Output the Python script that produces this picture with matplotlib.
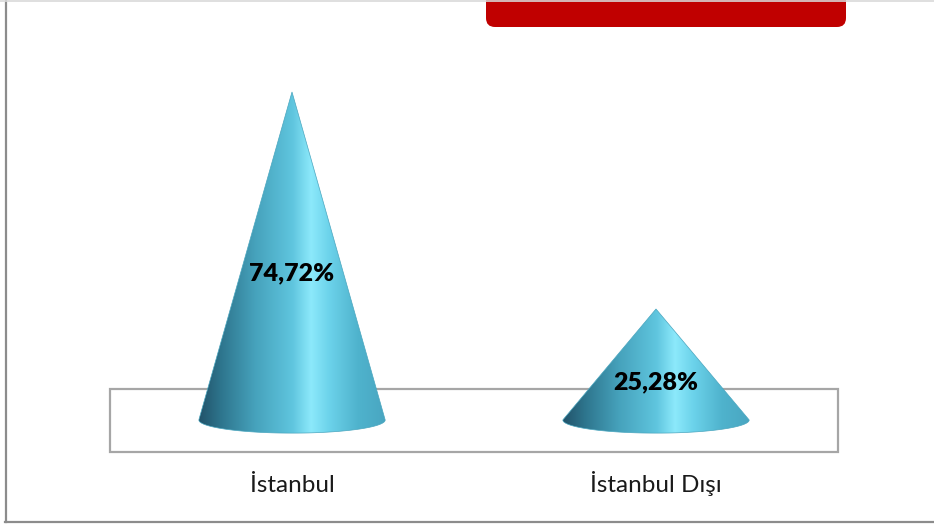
import numpy as np
import matplotlib.pyplot as plt
from matplotlib.path import Path
from matplotlib.patches import PathPatch, Rectangle, FancyBboxPatch
from matplotlib.colors import to_rgb

categories = ['İstanbul', 'İstanbul Dışı']
shares = [74.72, 25.28]
value_labels = ['74,72%', '25,28%']

plt.rcParams['font.family'] = ['Lato', 'DejaVu Sans']

W, H = 934, 526
fig = plt.figure(figsize=(W / 100, H / 100), dpi=100)

# decoration layer in pixel units (frame + banner)
deco = fig.add_axes([0, 0, 1, 1], zorder=0)
deco.set_xlim(0, W)
deco.set_ylim(H, 0)
deco.axis('off')
deco.plot([5.5, 5.5], [0, 521.5], color='#8c8c8c', lw=1.6)
deco.plot([5, W], [521.5, 521.5], color='#8c8c8c', lw=1.6)
deco.plot([0, W], [0.5, 0.5], color='#d9d9d9', lw=1.2)
deco.add_patch(FancyBboxPatch((492, -40), 348, 61,
                              boxstyle='round,pad=6,rounding_size=9',
                              facecolor='#c00000', edgecolor='none'))

ax = fig.add_axes([110 / W, 74 / H, 728 / W, 383.2 / H], zorder=1)
ax.set_xlim(-0.5, 1.5)
ax.set_ylim(-7.3, 80)
ax.axis('off')

# floor of the 3d chart
ax.add_patch(Rectangle((-0.5, -7.3), 2.0, 14.36, facecolor='none',
                       edgecolor='#a6a6a6', lw=1.6, zorder=1, clip_on=False))

# horizontal shading of the cones
stops = [0.0, 0.12, 0.3, 0.5, 0.6, 0.7, 0.85, 1.0]
stop_cols = ['#22536a', '#2e768e', '#46a2bc', '#5fc5de', '#8ce9fb',
             '#6bd2ea', '#4fb3cd', '#49a6c1']
xs = np.linspace(0, 1, 256)
rgb = np.array([to_rgb(c) for c in stop_cols])
grad = np.stack([np.interp(xs, stops, rgb[:, k]) for k in range(3)], axis=-1)
grad = np.repeat(grad[None, :, :], 4, axis=0)

half_w = 0.256   # cone base half width (category units)
ell_h = 3.0      # base ellipse half height (percent units)

for i, (cat, v, lab) in enumerate(zip(categories, shares, value_labels)):
    t = np.linspace(0, np.pi, 80)
    ex = i + half_w * np.cos(t)
    ey = -ell_h * np.sin(t)
    verts = [(i, v)] + list(zip(ex, ey)) + [(i, v)]
    codes = [Path.MOVETO] + [Path.LINETO] * (len(verts) - 2) + [Path.CLOSEPOLY]
    patch = PathPatch(Path(verts, codes), facecolor='none', edgecolor='#4aa6bf',
                      lw=0.5, zorder=3)
    ax.add_patch(patch)
    im = ax.imshow(grad, extent=[i - half_w, i + half_w, -ell_h, v],
                   aspect='auto', zorder=2, interpolation='bilinear')
    im.set_clip_path(patch)

    ax.text(i, v / 2 - 4, lab, ha='center', va='center', fontsize=18,
            fontweight='heavy', color='black', zorder=4)
    ax.text(i, -16.5, cat, ha='center', va='baseline', fontsize=17.5,
            color='#1a1a1a', clip_on=False)

fig.savefig('out.png', dpi=100)
